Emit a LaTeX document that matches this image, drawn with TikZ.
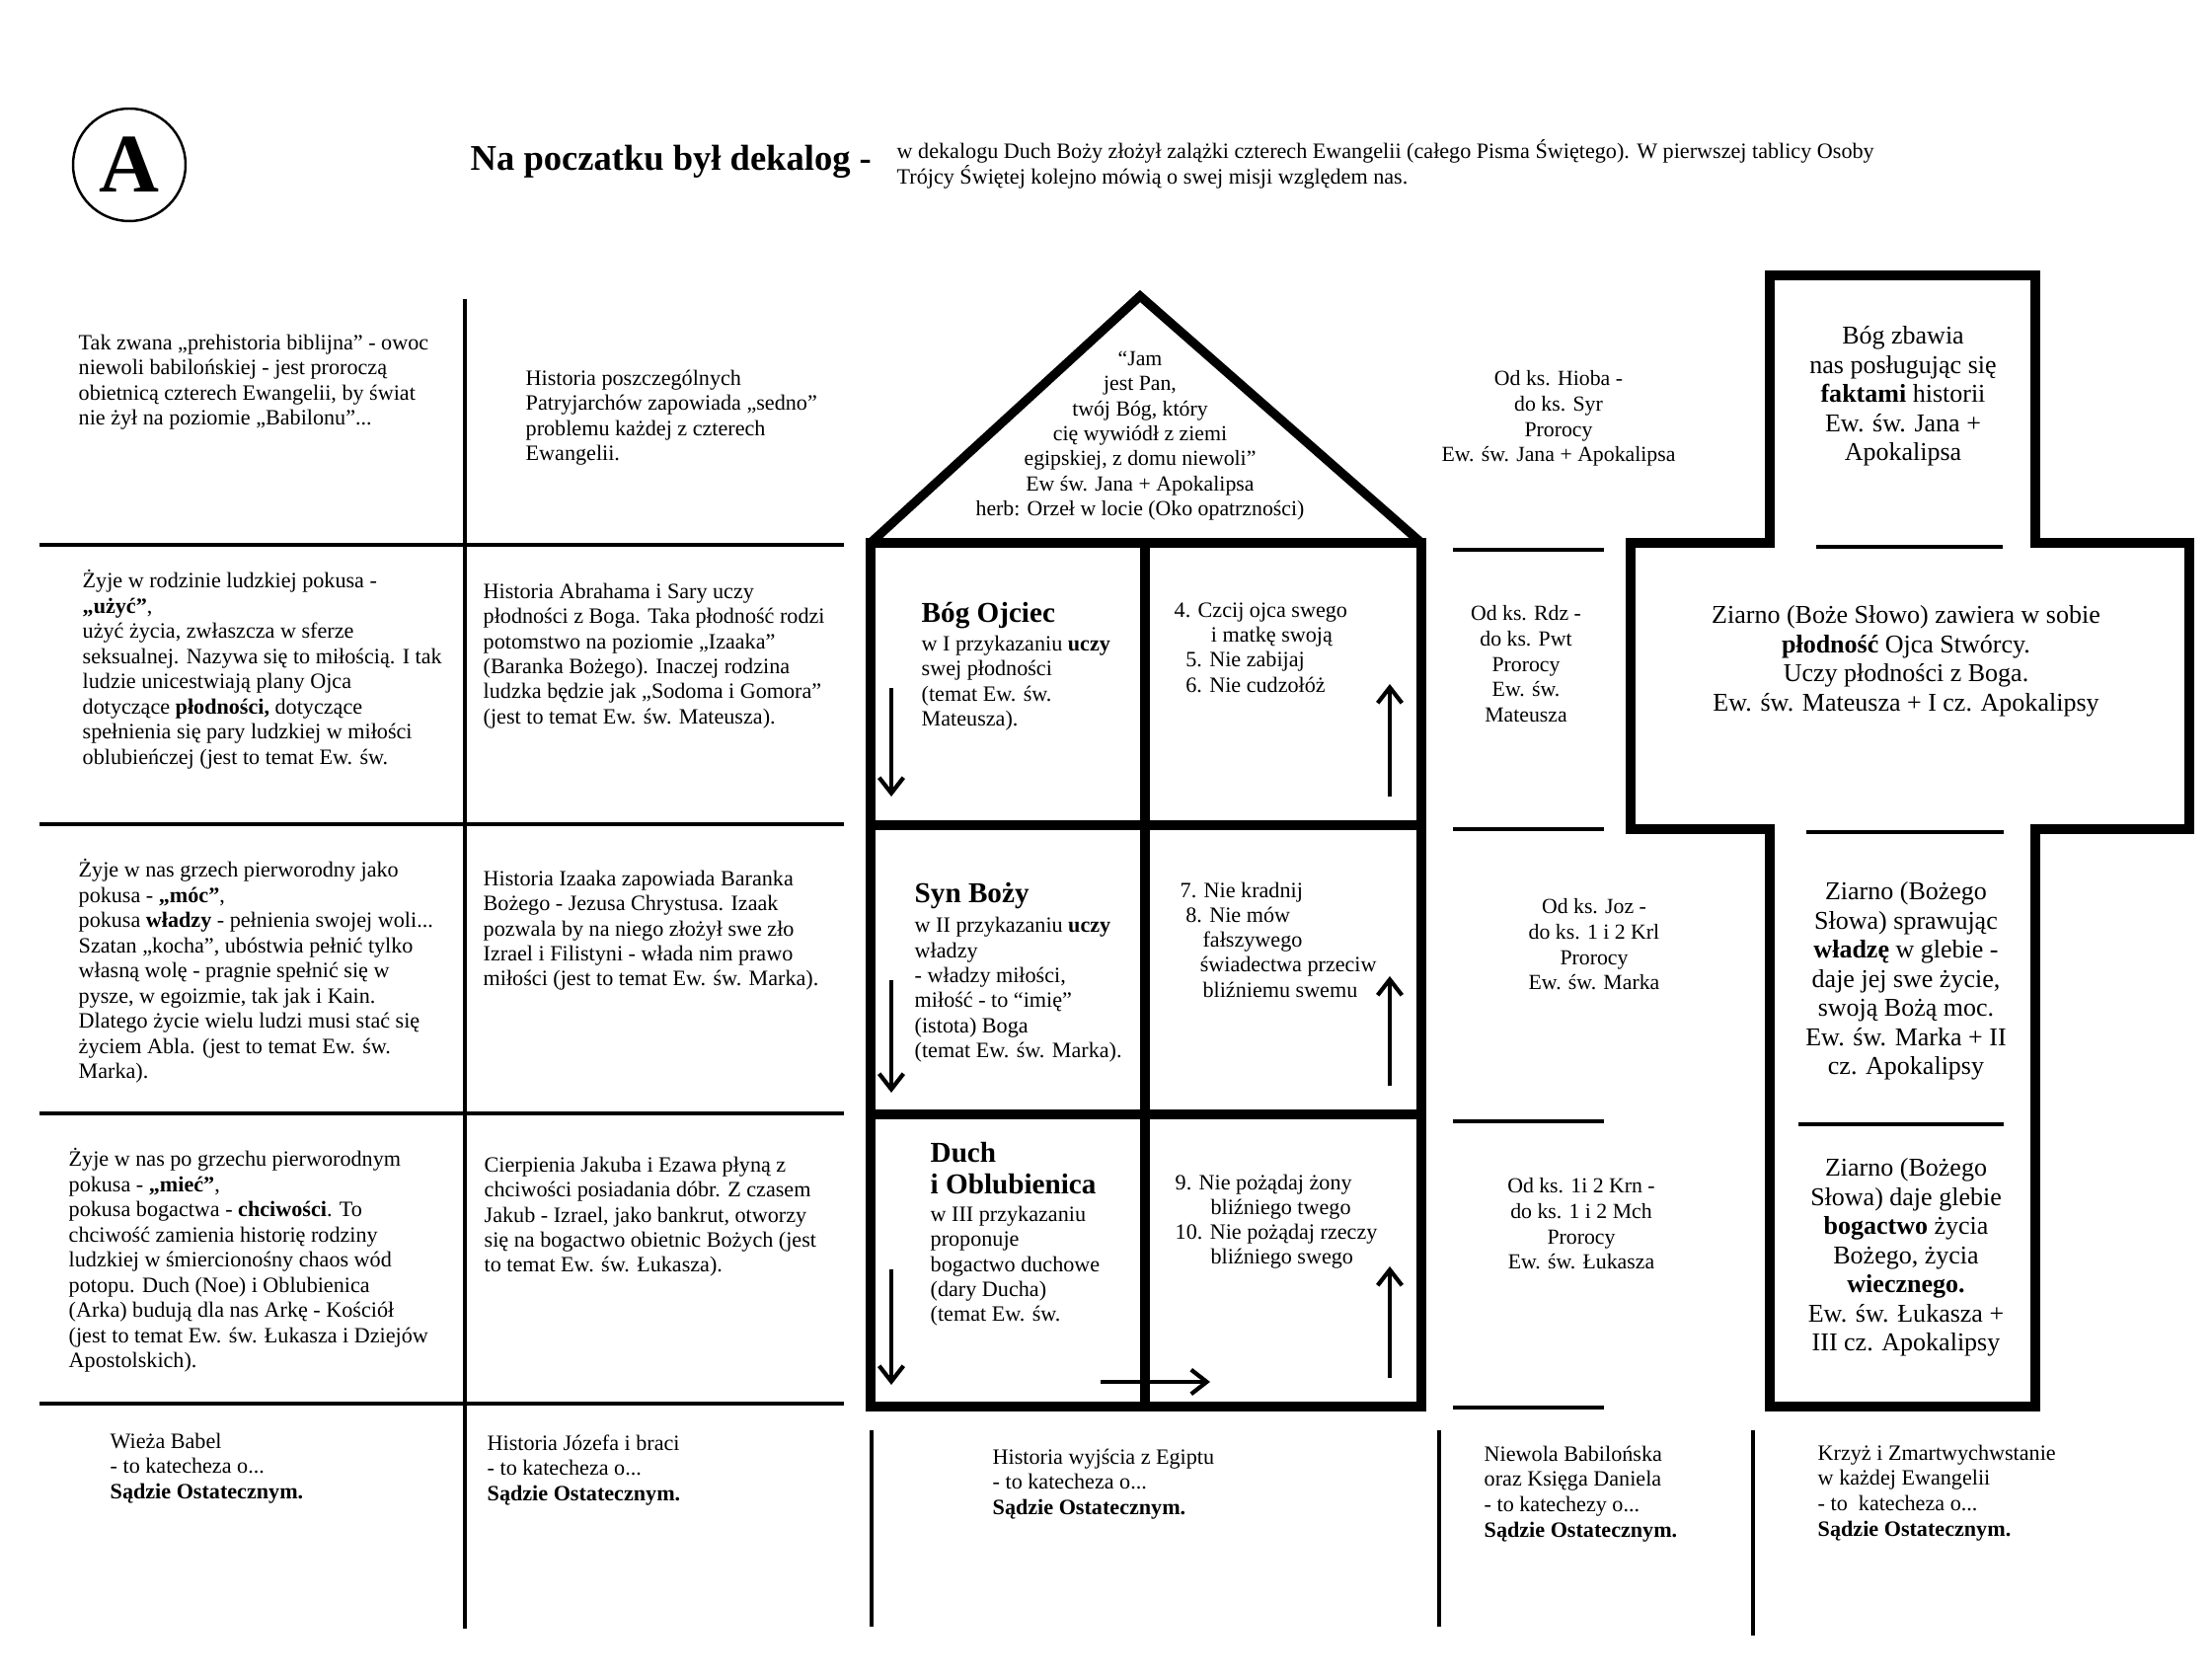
\documentclass[tikz,border=0pt]{standalone}
\usepackage{fontspec}
\setmainfont{Liberation Serif}
\usepackage{tikz}
\usetikzlibrary{arrows.meta}
\newcommand{\tsz}[2]{\fontsize{#1}{#2}\selectfont}
\newcommand{\headtxt}[1]{{\tsz{8.3}{9}\bfseries #1}}

\begin{document}
\begin{tikzpicture}[x=0.1mm, y=-0.1mm,
    txt/.style={anchor=north west, align=left, inner sep=0pt, font=\tsz{6.3}{7.25}},
    ctr/.style={anchor=north, align=center, inner sep=0pt, font=\tsz{6.2}{7.3}},
    krz/.style={anchor=north, align=center, inner sep=0pt, font=\tsz{7.4}{8.4}},
    grid/.style={line width=1pt},
    wall/.style={line width=2.6pt, line join=miter},
    arr/.style={-{Straight Barb[length=4.5pt, width=7pt]}, line width=1.2pt}
]
\useasboundingbox (0,0) rectangle (2241,1700);

\node[circle, draw, line width=0.7pt, minimum size=11.4mm, inner sep=0pt, font=\tsz{24}{24}\bfseries] (A) at (131,167) {A};
\node[anchor=north west, inner sep=0pt, font=\tsz{10.4}{12}\bfseries] (tytul) at (476,146) {Na poczatku był dekalog -};
\node[txt, font=\tsz{6.3}{7.3}] (wstep) at (908,141) {w dekalogu Duch Boży złożył zalążki czterech Ewangelii (całego Pisma Świętego). W pierwszej tablicy Osoby\\Trójcy Świętej kolejno mówią o swej misji względem nas.};

\foreach \y in {552,835,1128,1422} {
  \draw[grid] (40,\y) -- (855,\y);
}
\draw[grid, line width=1.2pt] (471,303) -- (471,1650);
\foreach \x/\yb in {883/1648,1458/1648,1776/1657}
  \draw[grid] (\x,1449) -- (\x,\yb);
\foreach \y in {557,840,1136,1426}
  \draw[grid, line width=1.2pt] (1472,\y) -- (1625,\y);

\draw[wall] (882,550) rectangle (1440,1425);
\draw[wall] (882,550) -- (1155,300) -- (1440,550);
\draw[wall] (1160,550) -- (1160,1425);
\draw[wall] (882,836) -- (1440,836) (882,1129) -- (1440,1129);

\draw[wall] (1793,279) -- (2062,279) -- (2062,550) -- (2218,550) -- (2218,840) -- (2062,840)
  -- (2062,1425) -- (1793,1425) -- (1793,840) -- (1652,840) -- (1652,550) -- (1793,550) -- cycle;
\draw[grid, line width=1.2pt] (1840,554) -- (2029,554) (1830,843) -- (2030,843) (1822,1139) -- (2030,1139);

\foreach \ya/\yb in {697/807,993/1107,1286/1403}
  \draw[arr] (903,\ya) -- (903,\yb);
\foreach \ya/\yb in {807/693,1100/989,1396/1283}
  \draw[arr] (1408,\ya) -- (1408,\yb);
\draw[arr] (1115,1400) -- (1226,1400);

\node[txt] (prehist) at (79,338) {Tak zwana „prehistoria biblijna” - owoc\\niewoli babilońskiej - jest proroczą\\obietnicą czterech Ewangelii, by świat\\nie żył na poziomie „Babilonu”...};
\node[txt] (patr) at (532,374) {Historia poszczególnych\\Patryjarchów zapowiada „sedno”\\problemu każdej z czterech\\Ewangelii.};
\node[ctr, font=\tsz{6.2}{7.24}] (dach) at (1155,355) {“Jam\\jest Pan,\\twój Bóg, który\\cię wywiódł z ziemi\\egipskiej, z domu niewoli”\\Ew św. Jana + Apokalipsa\\herb: Orzeł w locie (Oko opatrzności)};
\node[ctr] (hioba) at (1579,375) {Od ks. Hioba -\\do ks. Syr\\Prorocy\\Ew. św. Jana + Apokalipsa};
\node[krz] (zbawia) at (1928,330) {Bóg zbawia\\nas posługując się\\\textbf{faktami} historii\\Ew. św. Jana +\\Apokalipsa};

\node[txt] (uzyc) at (83,577) {Żyje w rodzinie ludzkiej pokusa -\\\textbf{„użyć”},\\użyć życia, zwłaszcza w sferze\\seksualnej. Nazywa się to miłością. I tak\\ludzie unicestwiają plany Ojca\\dotyczące \textbf{płodności,} dotyczące\\spełnienia się pary ludzkiej w miłości\\oblubieńczej (jest to temat Ew. św.};
\node[txt] (abraham) at (489,590) {Historia Abrahama i Sary uczy\\płodności z Boga. Taka płodność rodzi\\potomstwo na poziomie „Izaaka”\\(Baranka Bożego). Inaczej rodzina\\ludzka będzie jak „Sodoma i Gomora”\\(jest to temat Ew. św. Mateusza).};
\node[txt, font=\tsz{6.3}{7.2}] (ojciec) at (933,610) {\headtxt{Bóg Ojciec}\\[0.9pt]w I przykazaniu \textbf{uczy}\\swej płodności\\(temat Ew. św.\\Mateusza).};
\node[txt, font=\tsz{6.3}{7.2}] (przyk1) at (1189,610) {4. Czcij ojca swego\\\hspace*{10.6pt}i matkę swoją\\\hspace*{3.3pt}5. Nie zabijaj\\\hspace*{3.3pt}6. Nie cudzołóż};
\node[ctr] (rdz) at (1546,613) {Od ks. Rdz -\\do ks. Pwt\\Prorocy\\Ew. św.\\Mateusza};
\node[krz] (ziarno1) at (1931,613) {Ziarno (Boże Słowo) zawiera w sobie\\\textbf{płodność} Ojca Stwórcy.\\Uczy płodności z Boga.\\Ew. św. Mateusza + I cz. Apokalipsy};

\node[txt] (moc) at (79,870) {Żyje w nas grzech pierworodny jako\\pokusa - \textbf{„móc”},\\pokusa \textbf{władzy} - pełnienia swojej woli...\\Szatan „kocha”, ubóstwia pełnić tylko\\własną wolę - pragnie spełnić się w\\pysze, w egoizmie, tak jak i Kain.\\Dlatego życie wielu ludzi musi stać się\\życiem Abla. (jest to temat Ew. św.\\Marka).};
\node[txt] (izaak) at (489,881) {Historia Izaaka zapowiada Baranka\\Bożego - Jezusa Chrystusa. Izaak\\pozwala by na niego złożył swe zło\\Izrael i Filistyni - włada nim prawo\\miłości (jest to temat Ew. św. Marka).};
\node[txt, font=\tsz{6.3}{7.2}] (syn) at (926,894) {\headtxt{Syn Boży}\\[1.3pt]w II przykazaniu \textbf{uczy}\\władzy\\- władzy miłości,\\miłość - to “imię”\\(istota) Boga\\(temat Ew. św. Marka).};
\node[txt, font=\tsz{6.3}{7.2}] (przyk2) at (1195,893) {7. Nie kradnij\\\hspace*{1.6pt}8. Nie mów\\\hspace*{6.5pt}fałszywego\\\hspace*{5.7pt}świadectwa przeciw\\\hspace*{6.5pt}bliźniemu swemu};
\node[ctr] (joz) at (1615,910) {Od ks. Joz -\\do ks. 1 i 2 Krl\\Prorocy\\Ew. św. Marka};
\node[krz] (ziarno2) at (1931,893) {Ziarno (Bożego\\Słowa) sprawując\\\textbf{władzę} w glebie -\\daje jej swe życie,\\swoją Bożą moc.\\Ew. św. Marka + II\\cz. Apokalipsy};

\node[txt] (miec) at (69,1163) {Żyje w nas po grzechu pierworodnym\\pokusa - \textbf{„mieć”},\\pokusa bogactwa - \textbf{chciwości}. To\\chciwość zamienia historię rodziny\\ludzkiej w śmiercionośny chaos wód\\potopu. Duch (Noe) i Oblubienica\\(Arka) budują dla nas Arkę - Kościół\\(jest to temat Ew. św. Łukasza i Dziejów\\Apostolskich).};
\node[txt] (jakub) at (490,1171) {Cierpienia Jakuba i Ezawa płyną z\\chciwości posiadania dóbr. Z czasem\\Jakub - Izrael, jako bankrut, otworzy\\się na bogactwo obietnic Bożych (jest\\to temat Ew. św. Łukasza).};
\node[txt, font=\tsz{6.3}{7.2}] (duch) at (942,1157) {\headtxt{Duch}\\[1.7pt]\headtxt{i Oblubienica}\\[0.9pt]w III przykazaniu\\proponuje\\bogactwo duchowe\\(dary Ducha)\\(temat Ew. św.};
\node[txt, font=\tsz{6.3}{7.2}] (przyk3) at (1190,1189) {9. Nie pożądaj żony\\\hspace*{10.2pt}bliźniego twego\\10. Nie pożądaj rzeczy\\\hspace*{10.2pt}bliźniego swego};
\node[ctr] (krn) at (1602,1193) {Od ks. 1i 2 Krn -\\do ks. 1 i 2 Mch\\Prorocy\\Ew. św. Łukasza};
\node[krz] (ziarno3) at (1931,1173) {Ziarno (Bożego\\Słowa) daje glebie\\\textbf{bogactwo} życia\\Bożego, życia\\\textbf{wiecznego.}\\Ew. św. Łukasza +\\III cz. Apokalipsy};

\node[txt, font=\tsz{6.3}{7.3}] (babel) at (111,1451) {Wieża Babel\\- to katecheza o...\\\textbf{Sądzie Ostatecznym.}};
\node[txt, font=\tsz{6.3}{7.3}] (jozef) at (493,1453) {Historia Józefa i braci\\- to katecheza o...\\\textbf{Sądzie Ostatecznym.}};
\node[txt, font=\tsz{6.3}{7.3}] (egipt) at (1005,1467) {Historia wyjścia z Egiptu\\- to katecheza o...\\\textbf{Sądzie Ostatecznym.}};
\node[txt, font=\tsz{6.3}{7.3}] (daniel) at (1503,1464) {Niewola Babilońska\\oraz Księga Daniela\\- to katechezy o...\\\textbf{Sądzie Ostatecznym.}};
\node[txt, font=\tsz{6.3}{7.3}] (krzyz) at (1841,1463) {Krzyż i Zmartwychwstanie\\w każdej Ewangelii\\- to\ \ katecheza o...\\\textbf{Sądzie Ostatecznym.}};
\end{tikzpicture}
\end{document}
